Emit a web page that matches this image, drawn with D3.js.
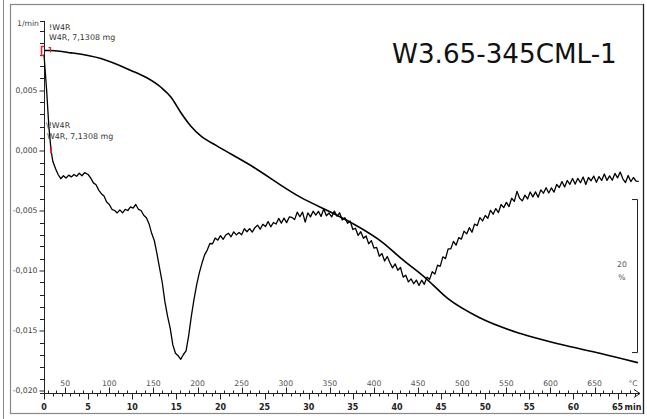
<!DOCTYPE html>
<html>
<head>
<meta charset="utf-8">
<script src="https://cdn.jsdelivr.net/npm/d3@7"></script>
<style>
  html, body { margin: 0; padding: 0; background: #fff; }
  svg { display: block; }
  text { font-family: "DejaVu Sans", Verdana, sans-serif; }
</style>
</head>
<body>
<svg id="chart" width="647" height="419"></svg>
<script>
// DTG curve: time (min) and mass-loss rate (1/min)
const dtgTime = [
  0.0, 0.3, 0.55, 0.8, 1.0, 1.3, 1.6, 1.9, 2.2, 2.5, 2.8, 3.1, 3.4, 3.7, 4.0, 4.3, 4.6, 5.0,
  5.3, 5.6, 5.9, 6.2, 6.5, 6.8, 7.1, 7.4, 7.7, 8.0, 8.3, 8.6, 8.9, 9.2, 9.5, 9.8, 10.1, 10.4,
  10.7, 11.0, 11.3, 11.6, 11.9, 12.2, 12.5, 12.8, 13.1, 13.4, 13.7, 14.0, 14.3, 14.6, 14.9,
  15.2, 15.5, 15.8, 16.1, 16.4, 16.7, 17.0, 17.3, 17.6, 17.9, 18.2,
  18.5, 18.8, 19.1, 19.4, 19.7, 20.0, 20.3, 20.6, 20.9, 21.2,
  21.5, 21.8, 22.1, 22.4, 22.7, 23.0, 23.3, 23.6, 23.9, 24.2,
  24.5, 24.8, 25.1, 25.4, 25.7, 26.0, 26.3, 26.6, 26.9, 27.2,
  27.5, 27.8, 28.1, 28.4, 28.7, 29.0, 29.3, 29.6, 29.9, 30.2,
  30.5, 30.8, 31.1, 31.4, 31.7, 32.0, 32.3, 32.6, 32.9, 33.2,
  33.5, 33.8, 34.1, 34.4, 34.7, 35.0, 35.3, 35.6, 35.9, 36.2,
  36.5, 36.8, 37.1, 37.4, 37.7, 38.0, 38.3, 38.6, 38.9, 39.2,
  39.5, 39.8, 40.1, 40.4, 40.7, 41.0, 41.3, 41.6, 41.9, 42.2,
  42.5, 42.8, 43.1, 43.4, 43.7, 44.0, 44.3, 44.6, 44.9, 45.2,
  45.5, 45.8, 46.1, 46.4, 46.7, 47.0, 47.3, 47.6, 47.9, 48.2,
  48.5, 48.8, 49.1, 49.4, 49.7, 50.0, 50.3, 50.6, 50.9, 51.2,
  51.5, 51.8, 52.1, 52.4, 52.7, 53.0, 53.3, 53.6, 53.9, 54.2,
  54.5, 54.8, 55.1, 55.4, 55.7, 56.0, 56.3, 56.6, 56.9, 57.2,
  57.5, 57.8, 58.1, 58.4, 58.7, 59.0, 59.3, 59.6, 59.9, 60.2,
  60.5, 60.8, 61.1, 61.4, 61.7, 62.0, 62.3, 62.6, 62.9, 63.2,
  63.5, 63.8, 64.1, 64.4, 64.7, 65.0, 65.3, 65.6, 65.9, 66.2,
  66.5, 66.8, 67.1, 67.4
];
const dtgRate = [
  0.0080, 0.0050, 0.0020, 0.0000, -0.0009, -0.0015, -0.0020, -0.00235, -0.0021, -0.0023, -0.00205, -0.0022, -0.0020, -0.00215, -0.0019, -0.0021, -0.00185, -0.0020,
  -0.0023, -0.0027, -0.00285, -0.0033, -0.0036, -0.0038, -0.0043, -0.0045, -0.0049, -0.0050, -0.0052, -0.00495, -0.0052, -0.0049, -0.0050, -0.0047, -0.0048, -0.0045,
  -0.0049, -0.0050, -0.0054, -0.0056, -0.0061, -0.0069, -0.0075, -0.0086, -0.0098, -0.0110, -0.0126, -0.0138, -0.0148, -0.0162, -0.0169,
  -0.0171, -0.0174, -0.0170, -0.0167, -0.0154, -0.0138, -0.0124, -0.0112, -0.0102, -0.0094, -0.0087,
  -0.00830, -0.00775, -0.00777, -0.00730, -0.00747, -0.00710, -0.00740, -0.00704, -0.00689, -0.00719,
  -0.00678, -0.00703, -0.00683, -0.00702, -0.00652, -0.00677, -0.00651, -0.00680, -0.00643, -0.00622,
  -0.00656, -0.00615, -0.00634, -0.00592, -0.00636, -0.00600, -0.00613, -0.00566, -0.00605, -0.00563,
  -0.00601, -0.00554, -0.00558, -0.00576, -0.00514, -0.00552, -0.00514, -0.00597, -0.00520, -0.00553,
  -0.00506, -0.00539, -0.00507, -0.00550, -0.00487, -0.00544, -0.00521, -0.00553, -0.00505, -0.00547,
  -0.00519, -0.00579, -0.00560, -0.00607, -0.00588, -0.00658, -0.00648, -0.00708, -0.00677, -0.00732,
  -0.00712, -0.00778, -0.00751, -0.00814, -0.00808, -0.00881, -0.00859, -0.00921, -0.00883, -0.00936,
  -0.00978, -0.00945, -0.00998, -0.00975, -0.01055, -0.01040, -0.01095, -0.01070, -0.01110, -0.01080,
  -0.01125, -0.01081, -0.01115, -0.01055, -0.01074, -0.01010, -0.01030, -0.00955, -0.00965, -0.00886,
  -0.00901, -0.00820, -0.00820, -0.00757, -0.00789, -0.00726, -0.00739, -0.00672, -0.00695, -0.00643,
  -0.00681, -0.00613, -0.00626, -0.00559, -0.00587, -0.00542, -0.00565, -0.00498, -0.00531, -0.00484,
  -0.00517, -0.00450, -0.00476, -0.00432, -0.00467, -0.00398, -0.00424, -0.00340, -0.00398, -0.00420,
  -0.00372, -0.00404, -0.00346, -0.00386, -0.00345, -0.00389, -0.00328, -0.00356, -0.00310, -0.00354,
  -0.00312, -0.00347, -0.00283, -0.00308, -0.00259, -0.00304, -0.00250, -0.00282, -0.00234, -0.00280,
  -0.00232, -0.00269, -0.00221, -0.00283, -0.00225, -0.00252, -0.00213, -0.00265, -0.00217, -0.00249,
  -0.00196, -0.00249, -0.00211, -0.00248, -0.00191, -0.00228, -0.00180, -0.00236, -0.00267, -0.00208,
  -0.00259, -0.00225, -0.00256, -0.00257
];

// TG curve: time (min) and residual mass (%)
const tgTime = [0.0, 0.8, 3.06, 6.45, 9.85, 11.55, 13.25, 14.4, 15.5, 16.65, 17.8, 19.5, 23.4, 29.1, 32.8, 34.8, 38.5, 40.4, 43.4, 45.75, 49.5, 54.0, 58.5, 63.1, 67.3];
const tgMass = [100.0, 100.0, 99.7, 98.95, 97.4, 96.5, 95.2, 93.9, 91.9, 90.1, 88.8, 87.6, 85.0, 80.8, 78.7, 77.5, 74.8, 72.9, 70.1, 67.6, 65.0, 63.0, 61.6, 60.4, 59.2];

// Axis tick values
const rateTicks = [0.005, 0.000, -0.005, -0.010, -0.015, -0.020];
const rateTickLabels = ["0,005", "0,000", "-0,005", "-0,010", "-0,015", "-0,020"];
const timeTicks = [0, 5, 10, 15, 20, 25, 30, 35, 40, 45, 50, 55, 60, 65];
const tempTicks = [50, 100, 150, 200, 250, 300, 350, 400, 450, 500, 550, 600, 650];

const title = "W3.65-345CML-1";
const sampleName = "W4R, 7,1308 mg";

// Heating programme: start temperature and rate (°C, °C/min)
const startTemp = 26;
const heatRate = 10;

const svg = d3.select("#chart");

// Panel frame
svg.append("line").attr("x1", 3.5).attr("x2", 3.5).attr("y1", 0).attr("y2", 419)
  .attr("stroke", "#888").attr("stroke-width", 1);
svg.append("rect").attr("x", 10.5).attr("y", 4.5).attr("width", 633).attr("height", 409)
  .attr("fill", "none").attr("stroke", "#888").attr("stroke-width", 1.2);
svg.append("line").attr("x1", 643.5).attr("x2", 643.5).attr("y1", 4).attr("y2", 414)
  .attr("stroke", "#222").attr("stroke-width", 1.2);

const xAxisY = 393.5;
const x = d3.scaleLinear().domain([0, 67.6]).range([44, 640.5]);
const y = d3.scaleLinear().domain([0.010, -0.020]).range([30.5, 390.5]);
const temp = d3.scaleLinear()
  .domain([startTemp, startTemp + heatRate * 67.6])
  .range(x.range());

// TG scale shares the panel: 100 % sits at the start level, 20 % spans 153 px
const massTop = y(0.00833);
const mass = d3.scaleLinear().domain([100, 80]).range([massTop, massTop + 153]);

const labelSize = 7.7;

// Y axis (rate)
const yAxis = d3.axisLeft(y)
  .tickValues(rateTicks)
  .tickFormat((d, i) => rateTickLabels[i])
  .tickSize(5).tickPadding(2);
const gy = svg.append("g").attr("transform", "translate(44.5,0)").call(yAxis);
gy.select(".domain").remove();
gy.selectAll("text").attr("font-size", labelSize).attr("fill", "#444")
  .attr("font-family", "'DejaVu Sans', sans-serif");
gy.selectAll("line").attr("stroke", "#222");
// minor ticks every 0,001; the top tick (0,010) carries the unit instead of a value
const minorRate = d3.range(-20, 11).map(k => k / 1000).filter(v => !rateTicks.includes(v));
svg.append("g").selectAll("line").data(minorRate).join("line")
  .attr("x1", 40).attr("x2", 44.5)
  .attr("y1", d => Math.round(y(d)) + 0.5).attr("y2", d => Math.round(y(d)) + 0.5)
  .attr("stroke", "#222");
svg.append("line").attr("x1", 44.5).attr("x2", 44.5).attr("y1", 21).attr("y2", xAxisY)
  .attr("stroke", "#222");
svg.append("line").attr("x1", 40).attr("x2", 44.5).attr("y1", 21.5).attr("y2", 21.5)
  .attr("stroke", "#222");
svg.append("text").attr("x", 39).attr("y", 26).attr("text-anchor", "end")
  .attr("font-size", labelSize).attr("fill", "#444").text("1/min");

// X axis: time below, temperature above
svg.append("line").attr("x1", 40).attr("x2", 640).attr("y1", xAxisY).attr("y2", xAxisY)
  .attr("stroke", "#222");
svg.append("path").attr("d", `M634,${xAxisY - 4} L640,${xAxisY} L634,${xAxisY + 4}`)
  .attr("fill", "none").attr("stroke", "#222");

const minorTime = d3.range(0, 68, 1);
svg.append("g").selectAll("line").data(minorTime).join("line")
  .attr("x1", d => Math.round(x(d)) + 0.5).attr("x2", d => Math.round(x(d)) + 0.5)
  .attr("y1", xAxisY).attr("y2", d => xAxisY + (d % 5 === 0 ? 6 : 3))
  .attr("stroke", "#222");
const minorTemp = d3.range(30, 700, 10);
svg.append("g").selectAll("line").data(minorTemp).join("line")
  .attr("x1", d => Math.round(temp(d)) + 0.5).attr("x2", d => Math.round(temp(d)) + 0.5)
  .attr("y1", xAxisY).attr("y2", d => xAxisY - (d % 50 === 0 ? 6 : 3))
  .attr("stroke", "#222");

svg.append("g").selectAll("text").data(timeTicks).join("text")
  .attr("x", d => x(d)).attr("y", 410)
  .attr("text-anchor", "middle").attr("font-size", 8).attr("font-weight", "bold")
  .attr("fill", "#222").text(d => d);
svg.append("text").attr("x", x(65) + 7).attr("y", 410).attr("font-size", 8)
  .attr("font-weight", "bold").attr("fill", "#222").text("min");
svg.append("g").selectAll("text").data(tempTicks).join("text")
  .attr("x", d => temp(d)).attr("y", 386)
  .attr("text-anchor", "middle").attr("font-size", labelSize).attr("fill", "#555").text(d => d);
svg.append("text").attr("x", 633).attr("y", 386).attr("text-anchor", "middle")
  .attr("font-size", labelSize).attr("fill", "#555").text("°C");

// Curves
const tgLine = d3.line().x(d => x(d[0])).y(d => mass(d[1])).curve(d3.curveMonotoneX);
svg.append("path").datum(d3.zip(tgTime, tgMass)).attr("d", tgLine)
  .attr("fill", "none").attr("stroke", "#000").attr("stroke-width", 1.6);

const dtgLine = d3.line().x(d => x(d[0])).y(d => y(d[1]));
svg.append("path").datum(d3.zip(dtgTime, dtgRate)).attr("d", dtgLine)
  .attr("fill", "none").attr("stroke", "#000").attr("stroke-width", 1.3)
  .attr("stroke-linejoin", "round");

// Evaluation range markers
const red = "#e8202a";
const m0 = mass(tgMass[0]);
svg.append("path").attr("d", `M44,${m0 - 4} L41.5,${m0 - 4} L41.5,${m0 + 5} L44,${m0 + 5}`)
  .attr("fill", "none").attr("stroke", red).attr("stroke-width", 1.5);
svg.append("path").attr("d", `M48.5,${m0 - 3} L50.5,${m0 - 3} L50.5,${m0 + 2}`)
  .attr("fill", "none").attr("stroke", red).attr("stroke-width", 1.2);
svg.append("line").attr("x1", x(0.8)).attr("x2", x(0.8))
  .attr("y1", y(0) - 4).attr("y2", y(0) + 3)
  .attr("stroke", red).attr("stroke-width", 1.6);

// Curve annotations
const ann = svg.append("g").attr("font-size", 7.9).attr("fill", "#333");
ann.append("text").attr("x", 49).attr("y", 30).text("!W4R");
ann.append("text").attr("x", 49).attr("y", 40).text(sampleName);
ann.append("text").attr("x", 46).attr("y", 128).text("\\!W4R");
ann.append("text").attr("x", 47).attr("y", 139).text(sampleName);

// Mass-change scale bar
const barTop = mass(100) + 149;
svg.append("path")
  .attr("d", `M632,${barTop} L637.5,${barTop} L637.5,${barTop + 153} L632,${barTop + 153}`)
  .attr("fill", "none").attr("stroke", "#222");
svg.append("text").attr("x", 622).attr("y", 267).attr("text-anchor", "middle")
  .attr("font-size", labelSize).attr("fill", "#555").text("20");
svg.append("text").attr("x", 622).attr("y", 280).attr("text-anchor", "middle")
  .attr("font-size", labelSize).attr("fill", "#555").text("%");

// Sample title
svg.append("text").attr("x", 392).attr("y", 63).attr("font-family", "Lato, 'Open Sans', sans-serif")
  .attr("font-size", 26.2).attr("fill", "#111").text(title);
</script>
</body>
</html>
